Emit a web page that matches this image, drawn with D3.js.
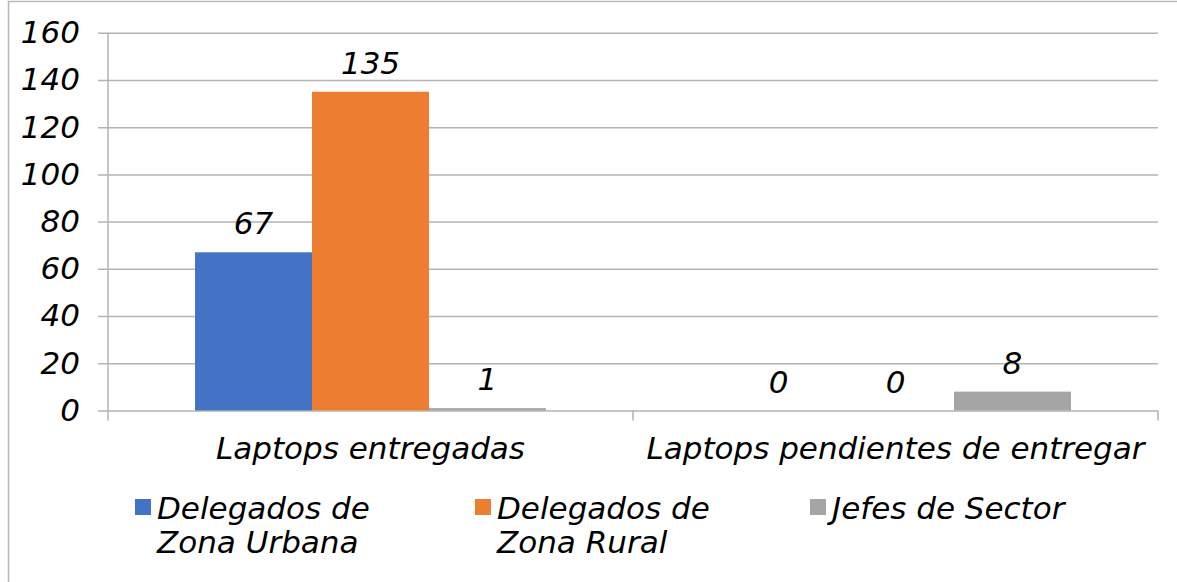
<!DOCTYPE html>
<html>
<head>
<meta charset="utf-8">
<script src="https://cdn.jsdelivr.net/npm/d3@7"></script>
<style>
  html, body { margin: 0; padding: 0; background: #fff; }
  svg { display: block; font-family: "DejaVu Sans", sans-serif; font-style: italic; }
</style>
</head>
<body>
<script>
// chart data
const categories = ["Laptops entregadas", "Laptops pendientes de entregar"];
const series = ["Delegados de Zona Urbana", "Delegados de Zona Rural", "Jefes de Sector"];
const legendLines = [["Delegados de", "Zona Urbana"], ["Delegados de", "Zona Rural"], ["Jefes de Sector"]];
const values = [
  [67, 135, 1],   // Laptops entregadas
  [0, 0, 8]       // Laptops pendientes de entregar
];
const yTicks = [0, 20, 40, 60, 80, 100, 120, 140, 160];
const colors = ["#4472C4", "#ED7D31", "#A5A5A5"];

const width = 1177, height = 582;
const plot = {left: 108, right: 1158, top: 32.7, bottom: 410.5};
const fontSize = 31;

const svg = d3.select("body").append("svg")
  .attr("width", width)
  .attr("height", height);

// outer chart frame (only top and left edges fall inside the picture)
svg.append("rect")
  .attr("x", 8.5).attr("y", 1.5)
  .attr("width", width + 20).attr("height", height + 20)
  .attr("fill", "none")
  .attr("stroke", "#b8b8b8")
  .attr("stroke-width", 1.5);

const y = d3.scaleLinear().domain([0, 160]).range([plot.bottom, plot.top]);

const x0 = d3.scaleBand()
  .domain(categories)
  .range([plot.left, plot.right])
  .padding(0);

const x1 = d3.scaleBand()
  .domain(series)
  .range([0, x0.bandwidth()])
  .paddingInner(0)
  .paddingOuter(0.744);

// gridlines + y tick labels
const yAxis = d3.axisLeft(y)
  .tickValues(yTicks)
  .tickSize(-(plot.right - plot.left) - 10)
  .tickPadding(18)
  .tickFormat(d3.format("d"));

const gy = svg.append("g")
  .attr("transform", `translate(${plot.left - 10},0)`)
  .call(yAxis);
gy.select(".domain").remove();
gy.selectAll(".tick line")
  .attr("stroke", "#b3b3b3")
  .attr("stroke-width", 1.5);
gy.selectAll(".tick text")
  .attr("fill", "#000")
  .style("font-size", fontSize + "px")
  .style("font-family", "DejaVu Sans, sans-serif")
  .style("font-style", "italic");

// vertical value axis line
svg.append("line")
  .attr("x1", plot.left).attr("x2", plot.left)
  .attr("y1", y(160)).attr("y2", plot.bottom + 10)
  .attr("stroke", "#b3b3b3")
  .attr("stroke-width", 1.5);

// category axis ticks at band boundaries
const boundaries = categories.map(c => x0(c)).concat([plot.right]);
svg.append("g")
  .selectAll("line")
  .data(boundaries.slice(1))
  .join("line")
  .attr("x1", d => d).attr("x2", d => d)
  .attr("y1", plot.bottom).attr("y2", plot.bottom + 10)
  .attr("stroke", "#b3b3b3")
  .attr("stroke-width", 1.5);

// bars
const groups = svg.append("g")
  .selectAll("g")
  .data(values)
  .join("g")
  .attr("transform", (d, i) => `translate(${x0(categories[i])},0)`);

groups.selectAll("rect")
  .data(d => d.map((v, j) => ({v, j})))
  .join("rect")
  .attr("x", d => x1(series[d.j]))
  .attr("width", x1.bandwidth())
  .attr("y", d => y(d.v))
  .attr("height", d => y(0) - y(d.v))
  .attr("fill", d => colors[d.j]);

// data labels
groups.selectAll("text")
  .data(d => d.map((v, j) => ({v, j})))
  .join("text")
  .attr("x", d => x1(series[d.j]) + x1.bandwidth() / 2)
  .attr("y", d => y(d.v) - 18)
  .attr("text-anchor", "middle")
  .style("font-size", fontSize + "px")
  .text(d => d.v);

// category labels
svg.append("g")
  .selectAll("text")
  .data(categories)
  .join("text")
  .attr("x", d => x0(d) + x0.bandwidth() / 2)
  .attr("y", 459)
  .attr("text-anchor", "middle")
  .style("font-size", fontSize + "px")
  .text(d => d);

// legend
const legendX = [135, 475, 810];
const legend = svg.append("g")
  .selectAll("g")
  .data(series)
  .join("g")
  .attr("transform", (d, i) => `translate(${legendX[i]},499)`);

legend.append("rect")
  .attr("width", 16).attr("height", 16)
  .attr("fill", (d, i) => colors[i]);

legend.append("text")
  .style("font-size", fontSize + "px")
  .selectAll("tspan")
  .data((d, i) => legendLines[i])
  .join("tspan")
  .attr("x", 22)
  .attr("y", (d, k) => 20 + k * 34)
  .text(d => d);
</script>
</body>
</html>
